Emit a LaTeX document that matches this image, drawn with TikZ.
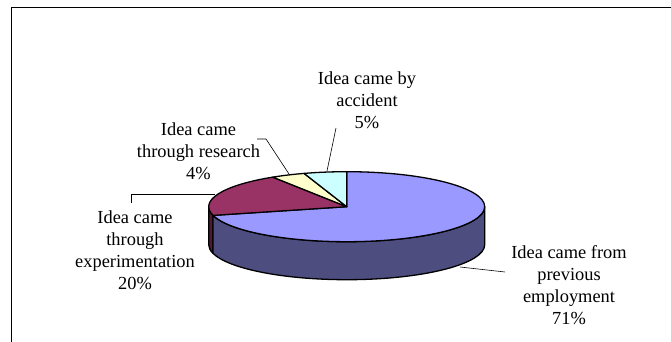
\documentclass[tikz,border=0pt]{standalone}
\usepackage{fontspec}
\setmainfont{Liberation Serif}
\definecolor{blueTop}{HTML}{9999FF}
\definecolor{blueSide}{HTML}{4D4D80}
\definecolor{maroonTop}{HTML}{993366}
\definecolor{maroonSide}{HTML}{4D1A33}
\definecolor{yellowTop}{HTML}{FFFFCC}
\definecolor{cyanTop}{HTML}{CCFFFF}
\begin{document}
\begin{tikzpicture}[x=1pt,y=1pt,
  slice/.style={draw=black,line width=1.3pt,line join=round},
  lbl/.style={align=center,inner sep=0pt,font=\fontsize{18.4}{22}\selectfont},
  leader/.style={draw=black,line width=0.6pt}]
\useasboundingbox (0,0) rectangle (671,342);
% frame
\draw[line width=1.2pt] (11.5,0) -- (11.5,334.5) -- (671,334.5);
% pie geometry
\def\cx{346.7}\def\cy{135.3}\def\rx{138}\def\ry{35}\def\dp{38}
\coordinate (C) at (\cx,\cy);
% side walls
\draw[slice,fill=maroonSide] ({\cx-\rx},\cy) arc[start angle=180,end angle=194.4,x radius=\rx,y radius=\ry]
  -- ++(0,-\dp) arc[start angle=194.4,end angle=180,x radius=\rx,y radius=\ry] -- cycle;
\draw[slice,fill=blueSide] ({\cx+\rx*cos(194.4)},{\cy+\ry*sin(194.4)}) arc[start angle=194.4,end angle=360,x radius=\rx,y radius=\ry]
  -- ++(0,-\dp) arc[start angle=360,end angle=194.4,x radius=\rx,y radius=\ry] -- cycle;
% top slices
\draw[slice,fill=blueTop] (C) -- ({\cx},{\cy+\ry}) arc[start angle=90,end angle=-165.6,x radius=\rx,y radius=\ry] -- cycle;
\draw[slice,fill=maroonTop] (C) -- ({\cx+\rx*cos(194.4)},{\cy+\ry*sin(194.4)}) arc[start angle=194.4,end angle=122.4,x radius=\rx,y radius=\ry] -- cycle;
\draw[slice,fill=yellowTop] (C) -- ({\cx+\rx*cos(122.4)},{\cy+\ry*sin(122.4)}) arc[start angle=122.4,end angle=108,x radius=\rx,y radius=\ry] -- cycle;
\draw[slice,fill=cyanTop] (C) -- ({\cx+\rx*cos(108)},{\cy+\ry*sin(108)}) arc[start angle=108,end angle=90,x radius=\rx,y radius=\ry] -- cycle;
% labels
\node[lbl] (acc) at (367,241.5) {Idea came by\\accident\\5\%};
\node[lbl] (res) at (198.5,190.5) {Idea came\\through research\\4\%};
\node[lbl] (exp) at (135,91.5) {Idea came\\through\\experimentation\\20\%};
\node[lbl] (emp) at (569,57.4) {Idea came from\\previous\\employment\\71\%};
% leader end points
\coordinate (accA) at (336,214);
\coordinate (accB) at (327,171);
\coordinate (resA) at (257,203);
\coordinate (resK) at (266,203);
\coordinate (resB) at (289,168);
\coordinate (expA) at (131.5,139);
\coordinate (expK) at (131.5,148);
\coordinate (expB) at (215,148);
\coordinate (empA) at (460,75);
\coordinate (empB) at (505,70);
\draw[leader] (accA) -- (accB);
\draw[leader] (resA) -- (resK) -- (resB);
\draw[leader] (expA) -- (expK) -- (expB);
\draw[leader] (empA) -- (empB);
\end{tikzpicture}
\end{document}
